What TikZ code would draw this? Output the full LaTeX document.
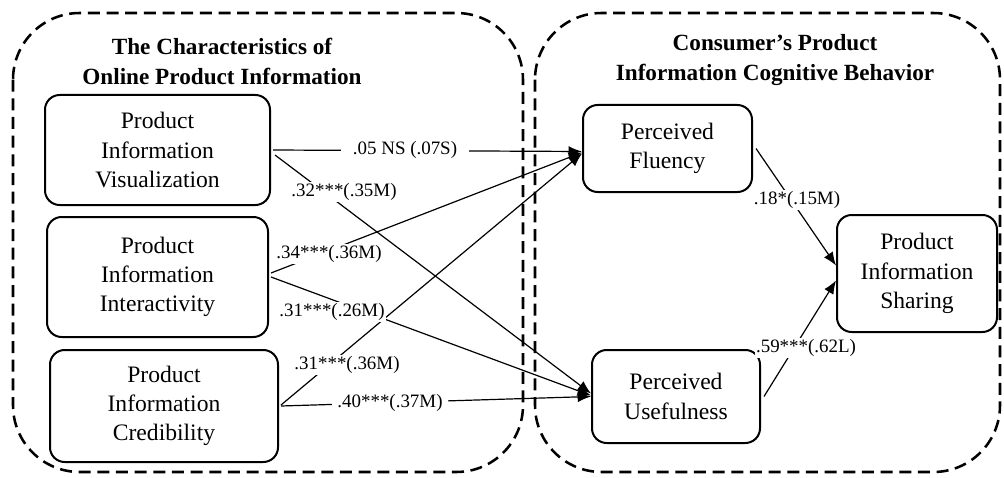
\documentclass[tikz,border=0pt]{standalone}
\usepackage{fontspec}
\setmainfont{Liberation Serif}
\usetikzlibrary{arrows.meta,calc}
\begin{document}
\begin{tikzpicture}[x=0.75pt,y=-0.75pt,
  groupbox/.style={line width=1.9pt,dash pattern=on 9pt off 5pt,rounded corners=50pt},
  varbox/.style={draw,line width=1.5pt,rounded corners=11pt,align=center,
    font=\fontsize{17.7}{22}\selectfont,inner sep=0pt},
  grouptitle/.style={align=center,font=\bfseries\fontsize{17.4}{22.5}\selectfont},
  path/.style={line width=0.9pt,-{Latex[length=10pt,width=8pt]}},
  coef/.style={fill=white,inner sep=1pt,font=\fontsize{14.2}{16}\selectfont}]
\useasboundingbox (0,0) rectangle (1004,478);
% group frames
\draw[groupbox] (13,13) rectangle (523,472);
\draw[groupbox] (535,13) rectangle (1000,472);
\node[grouptitle] (tl) at (222,61) {The Characteristics of\\Online Product Information};
\node[grouptitle] (tr) at (775,60) {Consumer’s Product\\Information Cognitive Behavior};
% variables
\node[varbox,minimum width=168.75pt,minimum height=82.5pt] (piv) at (157.5,150) {Product\\Information\\Visualization};
\node[varbox,minimum width=165.75pt,minimum height=90pt] (pii) at (157.5,277) {Product\\Information\\Interactivity};
\node[varbox,minimum width=171pt,minimum height=84pt] (pic) at (164,406) {Product\\Information\\Credibility};
\node[varbox,minimum width=126.75pt,minimum height=65.25pt] (pf) at (667.5,148.5) {Perceived\\Fluency};
\node[varbox,minimum width=126pt,minimum height=69.75pt] (pu) at (676,396.5) {Perceived\\Usefulness};
\node[varbox,minimum width=120pt,minimum height=87.75pt] (pis) at (917,273.5) {Product\\Information\\Sharing};
% paths
\draw[path] ($(piv.east)+(2,0)$) -- ($(pf.west)+(0,3)$);
\draw[path] ($(piv.east)+(4,5)$) -- ($(pu.west)+(0,-3)$);
\draw[path] ($(pii.east)+(2,-4)$) -- ($(pf.west)+(0,4)$);
\draw[path] ($(pii.east)+(2,0)$) -- ($(pu.west)+(0,-1)$);
\draw[path] ($(pic.east)+(2,-1)$) -- ($(pf.west)+(0,5)$);
\draw[path] ($(pic.east)+(2,0)$) -- ($(pu.west)+(0,0)$);
\draw[path] ($(pf.east)+(3,0)$) -- ($(pis.west)+(0,-8)$);
\draw[path] ($(pu.east)+(3,0)$) -- ($(pis.west)+(0,7)$);
% coefficients
\node[coef,inner xsep=9pt] (c1) at (405,150) {.05 NS (.07S)};
\node[coef] (c2) at (344,192) {.32***(.35M)};
\node[coef] (c3) at (329,254) {.34***(.36M)};
\node[coef] (c4) at (332,312) {.31***(.26M)};
\node[coef] (c5) at (347,365) {.31***(.36M)};
\node[coef,inner xsep=4pt] (c6) at (390,403) {.40***(.37M)};
\node[coef] (c7) at (797,200) {.18*(.15M)};
\node[coef] (c8) at (806,348) {.59***(.62L)};
\end{tikzpicture}
\end{document}
